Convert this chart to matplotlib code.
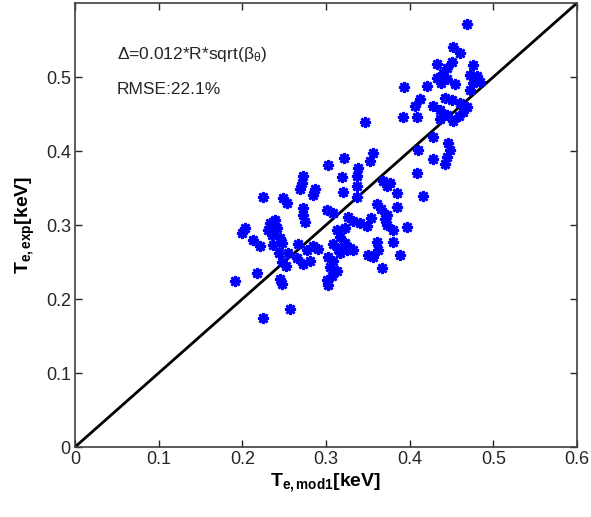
import numpy as np
import matplotlib
matplotlib.use("Agg")
import matplotlib.pyplot as plt

plt.rcParams['font.family'] = ['Liberation Sans', 'DejaVu Sans']
plt.rcParams['mathtext.fontset'] = 'custom'
plt.rcParams['mathtext.rm'] = 'Liberation Sans'
plt.rcParams['mathtext.it'] = 'Liberation Sans'
plt.rcParams['mathtext.bf'] = 'Liberation Sans:bold'

# ===== 数据 =====
te_mod1 = [0.469, 0.452, 0.460, 0.451, 0.433, 0.476, 0.445, 0.440, 0.433, 0.445,
           0.437, 0.454, 0.421, 0.393, 0.472, 0.481, 0.476, 0.484, 0.472, 0.412,
           0.442, 0.451, 0.460, 0.428, 0.436, 0.406, 0.409, 0.392, 0.469, 0.464,
           0.459, 0.445, 0.436, 0.452, 0.347, 0.428, 0.446, 0.410, 0.448, 0.445,
           0.442, 0.428, 0.409, 0.322, 0.302, 0.356, 0.353, 0.338, 0.337, 0.319,
           0.273, 0.271, 0.269, 0.287, 0.285, 0.368, 0.377, 0.373, 0.320, 0.337,
           0.337, 0.385, 0.416, 0.225, 0.249, 0.361, 0.366, 0.373, 0.385, 0.253,
           0.273, 0.273, 0.275, 0.301, 0.308, 0.326, 0.332, 0.341, 0.349, 0.354,
           0.371, 0.373, 0.380, 0.397, 0.203, 0.200, 0.233, 0.239, 0.241, 0.236,
           0.231, 0.245, 0.247, 0.237, 0.213, 0.221, 0.313, 0.323, 0.317, 0.323,
           0.308, 0.329, 0.314, 0.361, 0.362, 0.380, 0.267, 0.277, 0.285, 0.290,
           0.244, 0.255, 0.247, 0.252, 0.265, 0.273, 0.281, 0.302, 0.308, 0.305,
           0.313, 0.307, 0.317, 0.325, 0.332, 0.350, 0.356, 0.388, 0.367, 0.218,
           0.191, 0.245, 0.247, 0.301, 0.302, 0.257, 0.225]
te_exp = [0.572, 0.541, 0.532, 0.520, 0.518, 0.516, 0.512, 0.505, 0.499, 0.497,
          0.492, 0.491, 0.488, 0.487, 0.503, 0.501, 0.492, 0.493, 0.482, 0.470,
          0.472, 0.469, 0.465, 0.461, 0.455, 0.461, 0.446, 0.446, 0.460, 0.453,
          0.447, 0.449, 0.443, 0.441, 0.439, 0.419, 0.411, 0.401, 0.401, 0.392,
          0.382, 0.389, 0.370, 0.391, 0.381, 0.397, 0.387, 0.377, 0.366, 0.365,
          0.366, 0.357, 0.349, 0.349, 0.341, 0.360, 0.357, 0.353, 0.345, 0.353,
          0.338, 0.343, 0.339, 0.338, 0.337, 0.328, 0.322, 0.314, 0.324, 0.330,
          0.323, 0.314, 0.304, 0.320, 0.316, 0.311, 0.305, 0.303, 0.299, 0.310,
          0.308, 0.300, 0.293, 0.297, 0.296, 0.289, 0.303, 0.307, 0.296, 0.287,
          0.293, 0.282, 0.276, 0.273, 0.280, 0.272, 0.293, 0.296, 0.284, 0.276,
          0.274, 0.269, 0.268, 0.277, 0.266, 0.277, 0.274, 0.266, 0.272, 0.268,
          0.262, 0.262, 0.250, 0.245, 0.255, 0.247, 0.251, 0.257, 0.251, 0.243,
          0.238, 0.231, 0.262, 0.266, 0.266, 0.260, 0.257, 0.260, 0.242, 0.235,
          0.224, 0.227, 0.220, 0.226, 0.219, 0.187, 0.174]
diag = [0.0, 0.6]
x_ticks = [0, 0.1, 0.2, 0.3, 0.4, 0.5, 0.6]
y_ticks = [0, 0.1, 0.2, 0.3, 0.4, 0.5]

fig = plt.figure(figsize=(5.91, 5.17), dpi=100)
ax = fig.add_axes([75 / 591, 70 / 517, 502 / 591, 444 / 517])

ax.plot(te_mod1, te_exp, linestyle='none', marker=(8, 2, 0), markersize=8,
        markeredgewidth=1.9, color='#0000ff', zorder=3)
ax.plot(diag, diag, color='black', linewidth=2, zorder=2)

ax.set_xlim(0, 0.6)
ax.set_ylim(0, 0.6)
ax.set_xticks(x_ticks)
ax.set_xticklabels(['0', '0.1', '0.2', '0.3', '0.4', '0.5', '0.6'])
ax.set_yticks(y_ticks)
ax.set_yticklabels(['0', '0.1', '0.2', '0.3', '0.4', '0.5'])
ax.tick_params(direction='in', length=5, width=1, top=True, right=True,
               labelsize=13, colors='#262626', pad=3)
for s in ax.spines.values():
    s.set_color('#404040')
    s.set_linewidth(1.2)

ax.set_xlabel(r'$\mathbf{T_{e,mod1}[keV]}$', fontsize=14, labelpad=2)
ax.set_ylabel(r'$\mathbf{T_{e,exp}[keV]}$', fontsize=14, labelpad=6)

ax.text(0.083, 0.885, r'$\Delta$=0.012*R*sqrt($\beta_\theta$)', transform=ax.transAxes,
        fontsize=12.5, color='#262626', va='center')
ax.text(0.083, 0.805, 'RMSE:22.1%', transform=ax.transAxes,
        fontsize=12.5, color='#262626', va='center')

fig.savefig('out.png', dpi=100)
